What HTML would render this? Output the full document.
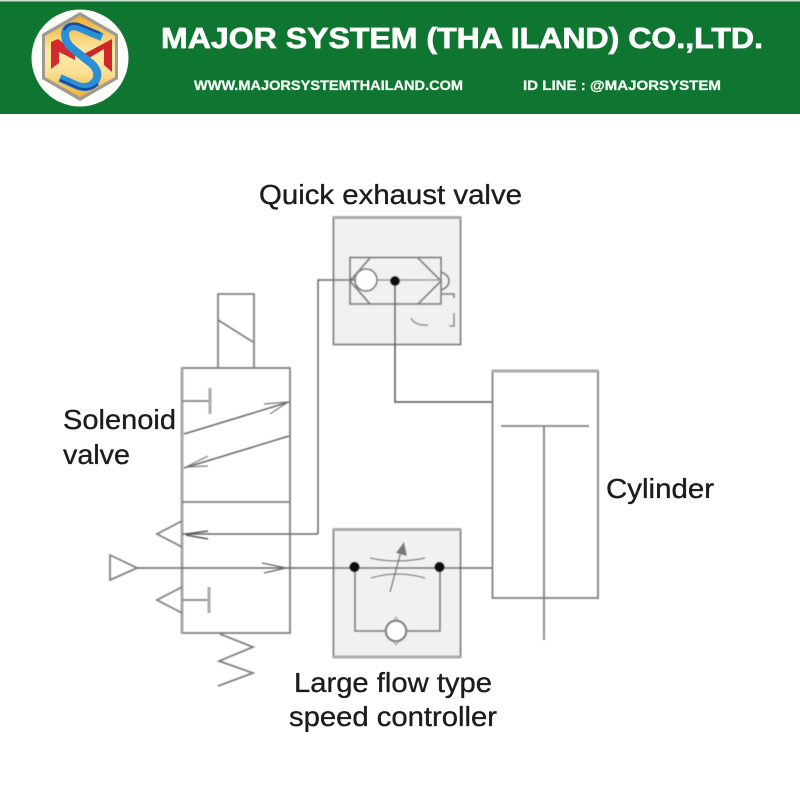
<!DOCTYPE html>
<html>
<head>
<meta charset="utf-8">
<style>
html,body{margin:0;padding:0;background:#fff}
svg{display:block}
text{font-family:"Liberation Sans",sans-serif}
</style>
</head>
<body>
<svg width="800" height="800" viewBox="0 0 800 800" xmlns="http://www.w3.org/2000/svg">
<defs>
<linearGradient id="g" x1="0" y1="0" x2="0" y2="1">
<stop offset="0" stop-color="#eeb02f"/><stop offset=".45" stop-color="#fde9a6"/><stop offset=".7" stop-color="#fbe096"/><stop offset="1" stop-color="#eeb02f"/>
</linearGradient>
<filter id="b" x="-5%" y="-5%" width="110%" height="110%"><feGaussianBlur stdDeviation="0.5"/></filter>
<filter id="b2" x="-5%" y="-5%" width="110%" height="110%"><feGaussianBlur stdDeviation="0.35"/></filter>
</defs>
<rect width="800" height="800" fill="#fff"/>
<rect width="800" height="114" fill="#0f7632"/>
<rect width="800" height="1.500" fill="#cfe0d4"/>
<g filter="url(#b2)">
<circle cx="80" cy="58" r="48.500" fill="#fdfdfa"/>
<polygon points="80,12 118,34 118,79 80,101 42,79 42,34" fill="#a09b92"/>
<polygon points="80,16 115,36 115,77 80,97 45,77 45,36" fill="url(#g)"/>
<polygon points="51,42 58,39 75,52 75,60 59,52 59,63 51,69" fill="#d22a2e"/>
<polygon points="84,54 112,39 112,72 104,65 104,49 84,61" fill="#cf262c"/>
<path d="M102,37 L78,27 Q66,24 65,34 Q65,43 73,49 L92,64 Q100,72 96,80 Q90,90 78,86 L60,78" fill="none" stroke="#2a8fd6" stroke-width="8"/>
<path d="M100,33 L78,24 Q68,22 64,30" fill="none" stroke="#1d4a9c" stroke-width="2.500"/>
<path d="M98,84 Q90,92 78,88 L60,80" fill="none" stroke="#1d4a9c" stroke-width="2.500"/>
<text x="161" y="48" font-size="29" font-weight="bold" fill="#fff" stroke="#fff" stroke-width="0.7" textLength="602" lengthAdjust="spacingAndGlyphs">MAJOR SYSTEM (THA ILAND) CO.,LTD.</text>
<text x="194" y="90" font-size="13.500" font-weight="bold" fill="#f2f7f3" stroke="#f2f7f3" stroke-width="0.3" textLength="269" lengthAdjust="spacingAndGlyphs">WWW.MAJORSYSTEMTHAILAND.COM</text>
<text x="523" y="90" font-size="13.500" font-weight="bold" fill="#f2f7f3" stroke="#f2f7f3" stroke-width="0.3" textLength="198" lengthAdjust="spacingAndGlyphs">ID LINE : @MAJORSYSTEM</text>
</g>

<g filter="url(#b)" fill="none" stroke="#808080" stroke-width="1.800">
<!-- grey boxes -->
<rect x="333.500" y="217" width="127" height="127.500" fill="#f1f1f1" stroke="#8c8c8c" stroke-width="2"/>
<rect x="333.500" y="530" width="127" height="127" fill="#f1f1f1" stroke="#8c8c8c" stroke-width="2"/>
<path d="M333,529.500 H461 M333,657 H461" stroke="#aaa" stroke-width="3"/>
<path d="M333,217.500 H461" stroke="#aaa" stroke-width="3"/>

<!-- quick exhaust interior -->
<rect x="350" y="257.500" width="91" height="46.500"/>
<path d="M350,281 L370,258 M350,281 L370,304 M418,258 L441,281 L418,304"/>
<circle cx="366" cy="280" r="11" fill="#fff"/>
<path d="M318,534 V280 H355" stroke="#666" stroke-width="1.500"/>
<path d="M377,280 H441" stroke="#999" stroke-width="1.500"/>
<path d="M441,272 Q449,275 449,281 Q449,287 441,290" />
<path d="M441,294 H454 V298" />
<path d="M411,318 Q415,326 428,325 M454,313 V326 H449" stroke="#999"/>
<path d="M395,281 V402 H492" stroke="#555" stroke-width="1.500"/>
<circle cx="395" cy="281" r="5" fill="#111" stroke="none"/>

<!-- solenoid -->
<path d="M218,368 V294 H254 V368" />
<path d="M218,320 L253,342"/>
<rect x="182" y="368" width="108" height="265"/>
<path d="M182,368 V633" stroke-width="3" stroke="#a8a8a8"/>
<path d="M182,502 H290"/>
<path d="M182,401 H210"/>
<path d="M210,388 V414" stroke-width="3" stroke="#aaa"/>
<path d="M184,434 L289,402" stroke="#666" stroke-width="1.500"/>
<path d="M264,404 L288,402 L270,414" stroke="#777" stroke-width="1.200"/>
<path d="M184,468 L289,436" stroke="#666" stroke-width="1.500"/>
<path d="M186,467 L208,456 M186,467 L208,466" stroke="#777" stroke-width="1.200"/>

<!-- lower valve -->
<path d="M182,521 L157,534 L182,547"/>
<path d="M182,534 H318" stroke="#666" stroke-width="1.500"/>
<path d="M186,534 L208,531 M186,535 L208,539" stroke="#555" stroke-width="1.500"/>
<polygon points="110,555 110,580 137,568"/>
<path d="M137,568 H492" stroke="#666" stroke-width="1.500"/>
<path d="M262,563 L286,568 L264,573" stroke="#666" stroke-width="1.300"/>
<path d="M182,587 L157,600 L182,613"/>
<path d="M182,600 H209"/>
<path d="M209,587 V613" stroke-width="3" stroke="#aaa"/>
<path d="M220,634 L253,647 L219,661 L253,673 L218,686"/>

<!-- speed controller -->
<path d="M355,567 V631 H385 M440,567 V631 H407"/>
<circle cx="396" cy="631" r="10.500" fill="#fff"/>
<path d="M385,631 L396,617 L407,631 L396,645 Z" stroke="#999" stroke-width="1"/>
<circle cx="396" cy="631" r="10" fill="#fff"/>
<path d="M370,558 Q397,564 425,558 M371,578 Q397,570 425,578" stroke="#777" stroke-width="1.300"/>
<path d="M390,592 L403,544" stroke="#666" stroke-width="1.300"/>
<polygon points="404,542 407,556 396,553" fill="#777" stroke="none"/>
<circle cx="354.500" cy="567" r="5.200" fill="#111" stroke="none"/>
<circle cx="439.500" cy="567" r="5.200" fill="#111" stroke="none"/>

<!-- cylinder -->
<rect x="492.500" y="371" width="105.500" height="227"/>
<path d="M492,371 H598" stroke-width="3" stroke="#aaa"/>
<path d="M501,426 H589"/>
<path d="M544,426 V640"/>
</g>

<g filter="url(#b2)" fill="#1c1c1c" stroke="#1c1c1c" stroke-width="0.350" font-size="28">
<text x="259" y="204" textLength="263" lengthAdjust="spacingAndGlyphs">Quick exhaust valve</text>
<text x="63" y="429" textLength="113" lengthAdjust="spacingAndGlyphs">Solenoid</text>
<text x="63" y="464" textLength="67" lengthAdjust="spacingAndGlyphs">valve</text>
<text x="606" y="498" textLength="108" lengthAdjust="spacingAndGlyphs">Cylinder</text>
<text x="294" y="692" textLength="198" lengthAdjust="spacingAndGlyphs">Large flow type</text>
<text x="289" y="726" textLength="208" lengthAdjust="spacingAndGlyphs">speed controller</text>
</g>
</svg>
</body>
</html>
